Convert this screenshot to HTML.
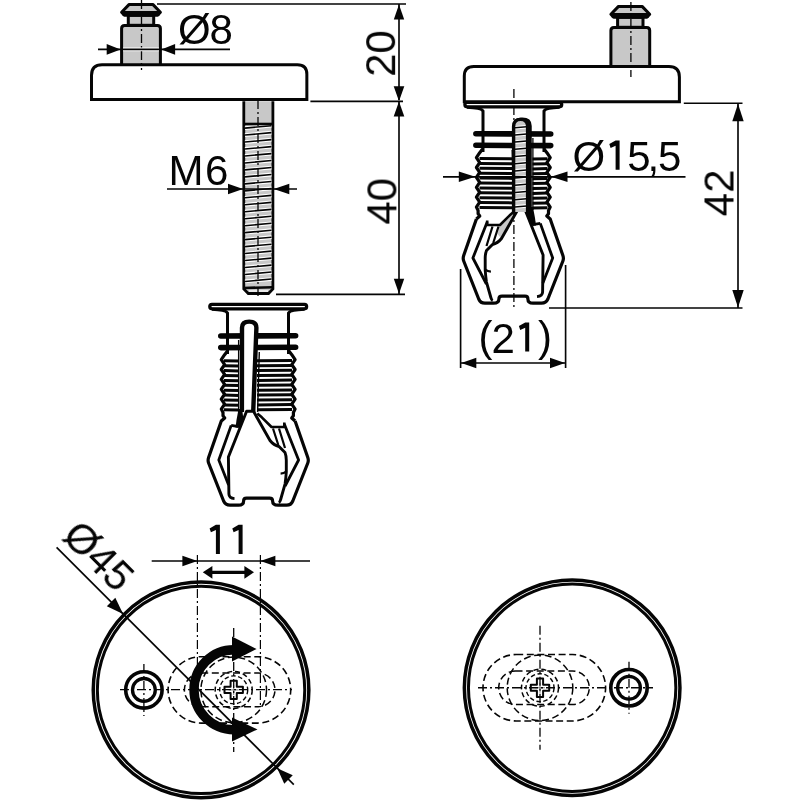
<!DOCTYPE html>
<html><head><meta charset="utf-8"><style>
html,body{margin:0;padding:0;background:#fff;width:800px;height:800px;overflow:hidden}
svg{display:block}
text{font-family:"Liberation Sans",sans-serif}
text{will-change:transform}
</style></head><body>
<svg width="800" height="800" viewBox="0 0 800 800" font-family="Liberation Sans, sans-serif" fill="#050505">
<rect width="800" height="800" fill="#fff"/>
<line x1="157" y1="4" x2="406" y2="4" stroke="#050505" stroke-width="1.65" />
<g transform="translate(141,0)">
<path d="M-19.4,64.8 V28.4 Q-19.4,25.4 -16.4,25.4 H16.4 Q19.4,25.4 19.4,28.4 V64.8" fill="#c8c8c8" stroke="#050505" stroke-width="3"/>
<rect x="-12.7" y="15.3" width="25.4" height="10" fill="#c8c8c8" stroke="#050505" stroke-width="3"/>
<path d="M-11.8,4.4 H11.8 L19.4,12.2 L16.6,15.3 H-16.6 L-19.4,12.2 Z" fill="#c8c8c8" stroke="#050505" stroke-width="3" stroke-linejoin="round"/>
<line x1="-18.6" y1="13.2" x2="18.6" y2="13.2" stroke="#050505" stroke-width="4.4" />
</g>
<path d="M91.5,99.5 V75.3 Q91.5,64.8 102,64.8 H297.35 Q306.85,64.8 306.85,74.3 V99.5 Z" fill="#fff" stroke="#050505" stroke-width="3"/>
<line x1="141.5" y1="0" x2="141.5" y2="70" stroke="#050505" stroke-width="1.3" stroke-dasharray="9 3 2 3"/>
<line x1="123" y1="49.4" x2="159" y2="49.4" stroke="#fff" stroke-width="3.9"  />
<line x1="98" y1="49.4" x2="230" y2="49.4" stroke="#050505" stroke-width="1.65" />
<path d="M120.50,49.40 L106.70,54.70 L106.70,44.10 Z" fill="#050505"/>
<path d="M161.30,49.40 L175.10,44.10 L175.10,54.70 Z" fill="#050505"/>
<text x="178.00" y="44" font-size="42">Ø</text>
<text x="209.50" y="44" font-size="42">8</text>
<line x1="399" y1="4" x2="399" y2="100" stroke="#050505" stroke-width="1.65" />
<path d="M399.00,4.50 L404.20,19.50 L393.80,19.50 Z" fill="#050505"/>
<path d="M399.00,101.20 L393.70,86.20 L404.30,86.20 Z" fill="#050505"/>
<text x="395" y="76.85" font-size="42" text-anchor="start" transform="rotate(-90 395 76.85)" >20</text>
<line x1="310.4" y1="101.4" x2="403" y2="101.4" stroke="#050505" stroke-width="1.65" />
<path d="M243.8,101.3 V289 L248.3,293.5 H268.5 L272.9,289 V101.3" fill="#c8c8c8" stroke="#050505" stroke-width="2.8"/>
<line x1="245" y1="128.1" x2="271.5" y2="125.7" stroke="#fff" stroke-width="3.8" />
<line x1="245" y1="128.1" x2="271.5" y2="125.7" stroke="#050505" stroke-width="1.6" />
<line x1="245" y1="135.07" x2="271.5" y2="132.67" stroke="#fff" stroke-width="3.8" />
<line x1="245" y1="135.07" x2="271.5" y2="132.67" stroke="#050505" stroke-width="1.6" />
<line x1="245" y1="142.04" x2="271.5" y2="139.64" stroke="#fff" stroke-width="3.8" />
<line x1="245" y1="142.04" x2="271.5" y2="139.64" stroke="#050505" stroke-width="1.6" />
<line x1="245" y1="149.01" x2="271.5" y2="146.61" stroke="#fff" stroke-width="3.8" />
<line x1="245" y1="149.01" x2="271.5" y2="146.61" stroke="#050505" stroke-width="1.6" />
<line x1="245" y1="155.98" x2="271.5" y2="153.58" stroke="#fff" stroke-width="3.8" />
<line x1="245" y1="155.98" x2="271.5" y2="153.58" stroke="#050505" stroke-width="1.6" />
<line x1="245" y1="162.95" x2="271.5" y2="160.55" stroke="#fff" stroke-width="3.8" />
<line x1="245" y1="162.95" x2="271.5" y2="160.55" stroke="#050505" stroke-width="1.6" />
<line x1="245" y1="169.92" x2="271.5" y2="167.52" stroke="#fff" stroke-width="3.8" />
<line x1="245" y1="169.92" x2="271.5" y2="167.52" stroke="#050505" stroke-width="1.6" />
<line x1="245" y1="176.89" x2="271.5" y2="174.49" stroke="#fff" stroke-width="3.8" />
<line x1="245" y1="176.89" x2="271.5" y2="174.49" stroke="#050505" stroke-width="1.6" />
<line x1="245" y1="183.86" x2="271.5" y2="181.46" stroke="#fff" stroke-width="3.8" />
<line x1="245" y1="183.86" x2="271.5" y2="181.46" stroke="#050505" stroke-width="1.6" />
<line x1="245" y1="190.83" x2="271.5" y2="188.43" stroke="#fff" stroke-width="3.8" />
<line x1="245" y1="190.83" x2="271.5" y2="188.43" stroke="#050505" stroke-width="1.6" />
<line x1="245" y1="197.8" x2="271.5" y2="195.4" stroke="#fff" stroke-width="3.8" />
<line x1="245" y1="197.8" x2="271.5" y2="195.4" stroke="#050505" stroke-width="1.6" />
<line x1="245" y1="204.77" x2="271.5" y2="202.37" stroke="#fff" stroke-width="3.8" />
<line x1="245" y1="204.77" x2="271.5" y2="202.37" stroke="#050505" stroke-width="1.6" />
<line x1="245" y1="211.74" x2="271.5" y2="209.34" stroke="#fff" stroke-width="3.8" />
<line x1="245" y1="211.74" x2="271.5" y2="209.34" stroke="#050505" stroke-width="1.6" />
<line x1="245" y1="218.71" x2="271.5" y2="216.31" stroke="#fff" stroke-width="3.8" />
<line x1="245" y1="218.71" x2="271.5" y2="216.31" stroke="#050505" stroke-width="1.6" />
<line x1="245" y1="225.68" x2="271.5" y2="223.28" stroke="#fff" stroke-width="3.8" />
<line x1="245" y1="225.68" x2="271.5" y2="223.28" stroke="#050505" stroke-width="1.6" />
<line x1="245" y1="232.65" x2="271.5" y2="230.25" stroke="#fff" stroke-width="3.8" />
<line x1="245" y1="232.65" x2="271.5" y2="230.25" stroke="#050505" stroke-width="1.6" />
<line x1="245" y1="239.62" x2="271.5" y2="237.22" stroke="#fff" stroke-width="3.8" />
<line x1="245" y1="239.62" x2="271.5" y2="237.22" stroke="#050505" stroke-width="1.6" />
<line x1="245" y1="246.59" x2="271.5" y2="244.19" stroke="#fff" stroke-width="3.8" />
<line x1="245" y1="246.59" x2="271.5" y2="244.19" stroke="#050505" stroke-width="1.6" />
<line x1="245" y1="253.56" x2="271.5" y2="251.16" stroke="#fff" stroke-width="3.8" />
<line x1="245" y1="253.56" x2="271.5" y2="251.16" stroke="#050505" stroke-width="1.6" />
<line x1="245" y1="260.53" x2="271.5" y2="258.13" stroke="#fff" stroke-width="3.8" />
<line x1="245" y1="260.53" x2="271.5" y2="258.13" stroke="#050505" stroke-width="1.6" />
<line x1="245" y1="267.5" x2="271.5" y2="265.1" stroke="#fff" stroke-width="3.8" />
<line x1="245" y1="267.5" x2="271.5" y2="265.1" stroke="#050505" stroke-width="1.6" />
<line x1="245" y1="274.47" x2="271.5" y2="272.07" stroke="#fff" stroke-width="3.8" />
<line x1="245" y1="274.47" x2="271.5" y2="272.07" stroke="#050505" stroke-width="1.6" />
<line x1="245" y1="281.44" x2="271.5" y2="279.04" stroke="#fff" stroke-width="3.8" />
<line x1="245" y1="281.44" x2="271.5" y2="279.04" stroke="#050505" stroke-width="1.6" />
<line x1="243.8" y1="124" x2="272.9" y2="124" stroke="#050505" stroke-width="2.6" />
<line x1="243.8" y1="288" x2="272.9" y2="287.2" stroke="#050505" stroke-width="2.6" />
<line x1="249" y1="291" x2="268" y2="291" stroke="#fff" stroke-width="1.2" />
<line x1="258" y1="100" x2="258" y2="296" stroke="#050505" stroke-width="1.3" stroke-dasharray="9 3 2 3"/>
<line x1="167" y1="189" x2="297" y2="189" stroke="#050505" stroke-width="1.65" />
<path d="M243.00,189.00 L228.00,194.30 L228.00,183.70 Z" fill="#050505"/>
<path d="M273.80,189.00 L289.30,183.70 L289.30,194.30 Z" fill="#050505"/>
<text x="168.50" y="185" font-size="42">M</text>
<text x="205.00" y="185" font-size="42">6</text>
<line x1="399" y1="101" x2="399" y2="294.3" stroke="#050505" stroke-width="1.65" />
<path d="M399.00,101.60 L404.30,116.60 L393.70,116.60 Z" fill="#050505"/>
<path d="M399.00,293.70 L393.80,278.70 L404.20,278.70 Z" fill="#050505"/>
<text x="396" y="224.6" font-size="42" text-anchor="start" transform="rotate(-90 396 224.6)" >40</text>
<line x1="276" y1="294.3" x2="405" y2="294.3" stroke="#050505" stroke-width="1.65" />
<path d="M212,304.4 H304.5 Q306.6,304.4 306.6,306.6 Q306.6,308.8 304.5,308.8 H212 Q209.8,308.8 209.8,306.6 Q209.8,304.4 212,304.4 Z" fill="#fff" stroke="#050505" stroke-width="3.3"/>
<path d="M212,309.3 Q226,310 227.5,313 V354" fill="none" stroke="#050505" stroke-width="3"/>
<path d="M304.5,309.3 Q290,310 288.5,313 V354" fill="none" stroke="#050505" stroke-width="3"/>
<line x1="220.8" y1="336" x2="295.6" y2="335.7" stroke="#050505" stroke-width="5.6" stroke-linecap="round"/>
<line x1="220.8" y1="347.6" x2="295.6" y2="347.3" stroke="#050505" stroke-width="5.6" stroke-linecap="round"/>
<line x1="224" y1="360.8" x2="239" y2="361.1" stroke="#050505" stroke-width="3.0" />
<line x1="257" y1="360.8" x2="292" y2="360.5" stroke="#050505" stroke-width="3.0" />
<line x1="224" y1="365.7" x2="239" y2="366.0" stroke="#050505" stroke-width="3.0" />
<line x1="257" y1="365.7" x2="292" y2="365.4" stroke="#050505" stroke-width="3.0" />
<line x1="224" y1="370.6" x2="239" y2="370.9" stroke="#050505" stroke-width="3.0" />
<line x1="257" y1="370.6" x2="292" y2="370.3" stroke="#050505" stroke-width="3.0" />
<line x1="224" y1="375.5" x2="239" y2="375.8" stroke="#050505" stroke-width="3.0" />
<line x1="257" y1="375.5" x2="292" y2="375.2" stroke="#050505" stroke-width="3.0" />
<line x1="224" y1="380.4" x2="239" y2="380.7" stroke="#050505" stroke-width="3.0" />
<line x1="257" y1="380.4" x2="292" y2="380.1" stroke="#050505" stroke-width="3.0" />
<line x1="224" y1="385.3" x2="239" y2="385.6" stroke="#050505" stroke-width="3.0" />
<line x1="257" y1="385.3" x2="292" y2="385.0" stroke="#050505" stroke-width="3.0" />
<line x1="224" y1="390.2" x2="239" y2="390.5" stroke="#050505" stroke-width="3.0" />
<line x1="257" y1="390.2" x2="292" y2="389.9" stroke="#050505" stroke-width="3.0" />
<line x1="224" y1="395.1" x2="239" y2="395.4" stroke="#050505" stroke-width="3.0" />
<line x1="257" y1="395.1" x2="292" y2="394.8" stroke="#050505" stroke-width="3.0" />
<line x1="224" y1="400.0" x2="239" y2="400.3" stroke="#050505" stroke-width="3.0" />
<line x1="257" y1="400.0" x2="292" y2="399.7" stroke="#050505" stroke-width="3.0" />
<line x1="224" y1="404.9" x2="239" y2="405.2" stroke="#050505" stroke-width="3.0" />
<line x1="257" y1="404.9" x2="292" y2="404.6" stroke="#050505" stroke-width="3.0" />
<line x1="224" y1="409.8" x2="239" y2="410.1" stroke="#050505" stroke-width="3.0" />
<line x1="257" y1="409.8" x2="292" y2="409.5" stroke="#050505" stroke-width="3.0" />
<path d="M227.50,351.00 L224.60,354.70 L221.30,359.60 L224.60,364.55 L221.30,369.50 L224.60,374.45 L221.30,379.40 L224.60,384.35 L221.30,389.30 L224.60,394.25 L221.30,399.20 L224.60,404.15 L221.30,409.10 L223.00,412.40 L223.00,415.80 L224.70,418.00 L221.30,421.00 L208.6,457.5 Q207.6,460.3 208.6,463 L223.6,501 Q225.5,505.2 230,505.2 H238.5 Q243.6,505.2 243.6,501 Q243.6,498.2 246.5,498.2 H269.5 Q272.6,498.2 272.6,501 Q272.6,505.2 278,505.2 H286.6 Q291,505.2 292.8,501 L307.8,463 Q308.8,460.3 307.8,457.5 L295.1,421" fill="none" stroke="#050505" stroke-width="3.2" stroke-linejoin="round"/>
<path d="M288.90,351.00 L291.80,354.70 L295.10,359.60 L291.80,364.55 L295.10,369.50 L291.80,374.45 L295.10,379.40 L291.80,384.35 L295.10,389.30 L291.80,394.25 L295.10,399.20 L291.80,404.15 L295.10,409.10 L293.40,412.40 L293.40,415.80 L291.70,418.00 L295.10,421.00" fill="none" stroke="#050505" stroke-width="3.2" stroke-linejoin="round"/>
<path d="M241.9,412 L242,327.8 Q242,321.6 249.2,321.6 Q256.4,321.6 256.4,327.8 L253.2,412" fill="#fff" stroke="#050505" stroke-width="4.4"/>
<line x1="238.6" y1="340" x2="238.6" y2="412" stroke="#050505" stroke-width="1.3" />
<line x1="259.3" y1="352" x2="257.6" y2="412" stroke="#050505" stroke-width="1.4" />
<path d="M231.2,425.4 L218.8,460 L228.6,485" fill="none" stroke="#050505" stroke-width="2.8" stroke-linejoin="round"/>
<line x1="231.2" y1="425.4" x2="238.8" y2="426.6" stroke="#050505" stroke-width="2.6" />
<path d="M235.5,427.5 L240.5,427.5 L243.2,418 L242.2,409 L238.6,409 L236.5,420 Z" fill="#050505"/>
<path d="M234.5,498.6 Q229,498.2 228.9,494 L228.4,457 L246.6,411.3 H253.5 L270,440.5 Q273.8,445.3 279,446.5 L285,452.5 Q286.4,456 286.3,461 L286.3,472 Q285.8,479 285.1,483.8 L280.5,500 Q280,502 278.8,502.6" fill="none" stroke="#050505" stroke-width="2.9" stroke-linejoin="round"/>
<path d="M280.6,473.6 Q284,473.4 286.2,471.6" fill="none" stroke="#050505" stroke-width="2.4"/>
<path d="M284.3,424 L298.6,460 L285.1,486" fill="none" stroke="#050505" stroke-width="2.8" stroke-linejoin="round"/>
<path d="M257.3,413.5 L261.8,417.3 L271.5,427 H284.3 V422.5" fill="none" stroke="#050505" stroke-width="2.6" stroke-linejoin="round"/>
<path d="M273,428.5 L278.3,445 M279,428.5 L285,448" fill="none" stroke="#050505" stroke-width="2.2"/>
<g transform="translate(630.3,2)">
<path d="M-19.4,64.6 V28.4 Q-19.4,25.4 -16.4,25.4 H16.4 Q19.4,25.4 19.4,28.4 V64.6" fill="#c8c8c8" stroke="#050505" stroke-width="3"/>
<rect x="-12.7" y="15.3" width="25.4" height="10" fill="#c8c8c8" stroke="#050505" stroke-width="3"/>
<path d="M-11.8,4.4 H11.8 L19.4,12.2 L16.6,15.3 H-16.6 L-19.4,12.2 Z" fill="#c8c8c8" stroke="#050505" stroke-width="3" stroke-linejoin="round"/>
<line x1="-18.6" y1="13.2" x2="18.6" y2="13.2" stroke="#050505" stroke-width="4.4" />
</g>
<path d="M515,210.5 L499.5,225.5 L497.5,234 L501.5,238.5 L518.5,209 Z" fill="#c8c8c8"/>
<g transform="translate(0,-202) translate(771.5,0) scale(-1,1)"><path d="M212,304.4 H304.5 Q306.6,304.4 306.6,306.6 Q306.6,308.8 304.5,308.8 H212 Q209.8,308.8 209.8,306.6 Q209.8,304.4 212,304.4 Z" fill="#fff" stroke="#050505" stroke-width="3.3"/>
<path d="M212,309.3 Q226,310 227.5,313 V354" fill="none" stroke="#050505" stroke-width="3"/>
<path d="M304.5,309.3 Q290,310 288.5,313 V354" fill="none" stroke="#050505" stroke-width="3"/>
<line x1="220.8" y1="336" x2="295.6" y2="335.7" stroke="#050505" stroke-width="5.6" stroke-linecap="round"/>
<line x1="220.8" y1="347.6" x2="295.6" y2="347.3" stroke="#050505" stroke-width="5.6" stroke-linecap="round"/>
<line x1="224" y1="360.8" x2="239" y2="361.1" stroke="#050505" stroke-width="3.0" />
<line x1="257" y1="360.8" x2="292" y2="360.5" stroke="#050505" stroke-width="3.0" />
<line x1="224" y1="365.7" x2="239" y2="366.0" stroke="#050505" stroke-width="3.0" />
<line x1="257" y1="365.7" x2="292" y2="365.4" stroke="#050505" stroke-width="3.0" />
<line x1="224" y1="370.6" x2="239" y2="370.9" stroke="#050505" stroke-width="3.0" />
<line x1="257" y1="370.6" x2="292" y2="370.3" stroke="#050505" stroke-width="3.0" />
<line x1="224" y1="375.5" x2="239" y2="375.8" stroke="#050505" stroke-width="3.0" />
<line x1="257" y1="375.5" x2="292" y2="375.2" stroke="#050505" stroke-width="3.0" />
<line x1="224" y1="380.4" x2="239" y2="380.7" stroke="#050505" stroke-width="3.0" />
<line x1="257" y1="380.4" x2="292" y2="380.1" stroke="#050505" stroke-width="3.0" />
<line x1="224" y1="385.3" x2="239" y2="385.6" stroke="#050505" stroke-width="3.0" />
<line x1="257" y1="385.3" x2="292" y2="385.0" stroke="#050505" stroke-width="3.0" />
<line x1="224" y1="390.2" x2="239" y2="390.5" stroke="#050505" stroke-width="3.0" />
<line x1="257" y1="390.2" x2="292" y2="389.9" stroke="#050505" stroke-width="3.0" />
<line x1="224" y1="395.1" x2="239" y2="395.4" stroke="#050505" stroke-width="3.0" />
<line x1="257" y1="395.1" x2="292" y2="394.8" stroke="#050505" stroke-width="3.0" />
<line x1="224" y1="400.0" x2="239" y2="400.3" stroke="#050505" stroke-width="3.0" />
<line x1="257" y1="400.0" x2="292" y2="399.7" stroke="#050505" stroke-width="3.0" />
<line x1="224" y1="404.9" x2="239" y2="405.2" stroke="#050505" stroke-width="3.0" />
<line x1="257" y1="404.9" x2="292" y2="404.6" stroke="#050505" stroke-width="3.0" />
<line x1="224" y1="409.8" x2="239" y2="410.1" stroke="#050505" stroke-width="3.0" />
<line x1="257" y1="409.8" x2="292" y2="409.5" stroke="#050505" stroke-width="3.0" />
<path d="M227.50,351.00 L224.60,354.70 L221.30,359.60 L224.60,364.55 L221.30,369.50 L224.60,374.45 L221.30,379.40 L224.60,384.35 L221.30,389.30 L224.60,394.25 L221.30,399.20 L224.60,404.15 L221.30,409.10 L223.00,412.40 L223.00,415.80 L224.70,418.00 L221.30,421.00 L208.6,457.5 Q207.6,460.3 208.6,463 L223.6,501 Q225.5,505.2 230,505.2 H238.5 Q243.6,505.2 243.6,501 Q243.6,498.2 246.5,498.2 H269.5 Q272.6,498.2 272.6,501 Q272.6,505.2 278,505.2 H286.6 Q291,505.2 292.8,501 L307.8,463 Q308.8,460.3 307.8,457.5 L295.1,421" fill="none" stroke="#050505" stroke-width="3.2" stroke-linejoin="round"/>
<path d="M288.90,351.00 L291.80,354.70 L295.10,359.60 L291.80,364.55 L295.10,369.50 L291.80,374.45 L295.10,379.40 L291.80,384.35 L295.10,389.30 L291.80,394.25 L295.10,399.20 L291.80,404.15 L295.10,409.10 L293.40,412.40 L293.40,415.80 L291.70,418.00 L295.10,421.00" fill="none" stroke="#050505" stroke-width="3.2" stroke-linejoin="round"/>
<path d="M241.9,412 L242,327.8 Q242,321.6 249.2,321.6 Q256.4,321.6 256.4,327.8 L253.2,412" fill="#fff" stroke="#050505" stroke-width="4.4"/>
<line x1="238.6" y1="340" x2="238.6" y2="412" stroke="#050505" stroke-width="1.3" />
<line x1="259.3" y1="352" x2="257.6" y2="412" stroke="#050505" stroke-width="1.4" />
<path d="M231.2,425.4 L218.8,460 L228.6,485" fill="none" stroke="#050505" stroke-width="2.8" stroke-linejoin="round"/>
<line x1="231.2" y1="425.4" x2="238.8" y2="426.6" stroke="#050505" stroke-width="2.6" />
<path d="M235.5,427.5 L240.5,427.5 L243.2,418 L242.2,409 L238.6,409 L236.5,420 Z" fill="#050505"/>
<path d="M234.5,498.6 Q229,498.2 228.9,494 L228.4,457 L246.6,411.3 H253.5 L270,440.5 Q273.8,445.3 279,446.5 L285,452.5 Q286.4,456 286.3,461 L286.3,472 Q285.8,479 285.1,483.8 L280.5,500 Q280,502 278.8,502.6" fill="none" stroke="#050505" stroke-width="2.9" stroke-linejoin="round"/>
<path d="M280.6,473.6 Q284,473.4 286.2,471.6" fill="none" stroke="#050505" stroke-width="2.4"/>
<path d="M284.3,424 L298.6,460 L285.1,486" fill="none" stroke="#050505" stroke-width="2.8" stroke-linejoin="round"/>
<path d="M257.3,413.5 L261.8,417.3 L271.5,427 H284.3 V422.5" fill="none" stroke="#050505" stroke-width="2.6" stroke-linejoin="round"/>
<path d="M273,428.5 L278.3,445 M279,428.5 L285,448" fill="none" stroke="#050505" stroke-width="2.2"/></g>
<path d="M679.4,101.7 V77.1 Q679.4,66.6 668.9,66.6 H473.8 Q464.3,66.6 464.3,76.1 V101.7 Z" fill="#fff" stroke="#050505" stroke-width="3"/>
<line x1="630.9" y1="2" x2="630.9" y2="77" stroke="#050505" stroke-width="1.3" stroke-dasharray="9 3 2 3"/>
<line x1="513.9" y1="89" x2="513.9" y2="310" stroke="#050505" stroke-width="1.3" stroke-dasharray="9 3 2 3"/>
<path d="M513.6,212 V126.6 Q513.6,119.4 520.6,119.4 Q527.6,119.4 527.6,126.6 V212 Z" fill="#c8c8c8" stroke="none"/>
<line x1="515" y1="127.7" x2="526.5" y2="126.7" stroke="#fff" stroke-width="3.6" />
<line x1="515" y1="127.7" x2="526.5" y2="126.7" stroke="#050505" stroke-width="1.5" />
<line x1="515" y1="134.9" x2="526.5" y2="133.9" stroke="#fff" stroke-width="3.6" />
<line x1="515" y1="134.9" x2="526.5" y2="133.9" stroke="#050505" stroke-width="1.5" />
<line x1="515" y1="142.1" x2="526.5" y2="141.1" stroke="#fff" stroke-width="3.6" />
<line x1="515" y1="142.1" x2="526.5" y2="141.1" stroke="#050505" stroke-width="1.5" />
<line x1="515" y1="149.3" x2="526.5" y2="148.3" stroke="#fff" stroke-width="3.6" />
<line x1="515" y1="149.3" x2="526.5" y2="148.3" stroke="#050505" stroke-width="1.5" />
<line x1="515" y1="156.5" x2="526.5" y2="155.5" stroke="#fff" stroke-width="3.6" />
<line x1="515" y1="156.5" x2="526.5" y2="155.5" stroke="#050505" stroke-width="1.5" />
<line x1="515" y1="163.7" x2="526.5" y2="162.7" stroke="#fff" stroke-width="3.6" />
<line x1="515" y1="163.7" x2="526.5" y2="162.7" stroke="#050505" stroke-width="1.5" />
<line x1="515" y1="170.9" x2="526.5" y2="169.9" stroke="#fff" stroke-width="3.6" />
<line x1="515" y1="170.9" x2="526.5" y2="169.9" stroke="#050505" stroke-width="1.5" />
<line x1="515" y1="178.1" x2="526.5" y2="177.1" stroke="#fff" stroke-width="3.6" />
<line x1="515" y1="178.1" x2="526.5" y2="177.1" stroke="#050505" stroke-width="1.5" />
<line x1="515" y1="185.3" x2="526.5" y2="184.3" stroke="#fff" stroke-width="3.6" />
<line x1="515" y1="185.3" x2="526.5" y2="184.3" stroke="#050505" stroke-width="1.5" />
<line x1="515" y1="192.5" x2="526.5" y2="191.5" stroke="#fff" stroke-width="3.6" />
<line x1="515" y1="192.5" x2="526.5" y2="191.5" stroke="#050505" stroke-width="1.5" />
<line x1="515" y1="199.7" x2="526.5" y2="198.7" stroke="#fff" stroke-width="3.6" />
<line x1="515" y1="199.7" x2="526.5" y2="198.7" stroke="#050505" stroke-width="1.5" />
<line x1="515" y1="206.9" x2="526.5" y2="205.9" stroke="#fff" stroke-width="3.6" />
<line x1="515" y1="206.9" x2="526.5" y2="205.9" stroke="#050505" stroke-width="1.5" />
<path d="M513.6,212 V126.6 Q513.6,119.4 520.6,119.4 Q527.6,119.4 527.6,126.6 V212" fill="none" stroke="#050505" stroke-width="3.4"/>
<path d="M529,126 V212 Q530,217 533.5,223" fill="none" stroke="#050505" stroke-width="4.2"/>
<line x1="443" y1="176.8" x2="685.5" y2="176.8" stroke="#050505" stroke-width="1.65" />
<path d="M475.30,176.80 L458.80,182.10 L458.80,171.50 Z" fill="#050505"/>
<path d="M551.00,176.80 L567.50,171.50 L567.50,182.10 Z" fill="#050505"/>
<text x="572.50" y="170.8" font-size="42">Ø</text>
<path d="M615.60,140.50 H619.60 V169.80 H615.60 V145.70 L610.60,147.90 L609.30,144.10 Z" fill="#050505"/>
<text x="627.25" y="170.8" font-size="42">5</text>
<text x="647.50" y="170.8" font-size="42">,</text>
<text x="658.00" y="170.8" font-size="42">5</text>
<line x1="683.8" y1="103.2" x2="742.5" y2="103.2" stroke="#050505" stroke-width="1.65" />
<line x1="549" y1="308" x2="742.5" y2="308" stroke="#050505" stroke-width="1.65" />
<line x1="738" y1="103.5" x2="738" y2="308" stroke="#050505" stroke-width="1.65" />
<path d="M738.00,103.80 L743.70,121.30 L732.30,121.30 Z" fill="#050505"/>
<path d="M738.00,307.60 L732.30,290.10 L743.70,290.10 Z" fill="#050505"/>
<text x="733.8" y="216.3" font-size="42" text-anchor="start" transform="rotate(-90 733.8 216.3)" >42</text>
<line x1="460.6" y1="269" x2="460.6" y2="368" stroke="#050505" stroke-width="1.65" />
<line x1="565.6" y1="265" x2="565.6" y2="368" stroke="#050505" stroke-width="1.65" />
<line x1="461" y1="363" x2="565" y2="363" stroke="#050505" stroke-width="1.65" />
<path d="M461.30,363.00 L476.30,357.80 L476.30,368.20 Z" fill="#050505"/>
<path d="M565.00,363.00 L550.00,368.20 L550.00,357.80 Z" fill="#050505"/>
<text x="478.50" y="351" font-size="42">(</text>
<text x="491.50" y="352.5" font-size="42">2</text>
<path d="M525.20,322.50 H529.20 V351.50 H525.20 V327.70 L520.20,329.90 L518.90,326.10 Z" fill="#050505"/>
<text x="538.00" y="351" font-size="42">)</text>
<circle cx="201.05" cy="689.9" r="107.8" fill="none" stroke="#050505" stroke-width="3.5"/>
<circle cx="201.05" cy="689.9" r="103.7" fill="none" stroke="#050505" stroke-width="3.0"/>
<circle cx="143.9" cy="689.9" r="18.2" fill="none" stroke="#050505" stroke-width="3.6"/>
<circle cx="143.9" cy="689.9" r="11.4" fill="none" stroke="#050505" stroke-width="3.3"/>
<line x1="143.9" y1="663.9" x2="143.9" y2="715.9" stroke="#050505" stroke-width="1.3" stroke-dasharray="9 3 2 3"/>
<rect x="168.1" y="656.6999999999999" width="122.6" height="66.4" rx="33.2" fill="none" stroke="#050505" stroke-width="1.6" stroke-dasharray="7 3.6"/>
<rect x="184.39999999999998" y="673.1" width="90.6" height="33.6" rx="16.8" fill="none" stroke="#050505" stroke-width="1.5" stroke-dasharray="7 3.6"/>
<circle cx="233.7" cy="689.9" r="32.8" fill="none" stroke="#050505" stroke-width="1.5" stroke-dasharray="7 3.6"/>
<circle cx="233.7" cy="689.9" r="18.5" fill="none" stroke="#050505" stroke-width="1.5" stroke-dasharray="5 3"/>
<circle cx="233.7" cy="689.9" r="14" fill="none" stroke="#050505" stroke-width="1.4" stroke-dasharray="4.5 2.5"/>
<path d="M230.6,680.6999999999999 h6.2 v6.1 h6.1 v6.2 h-6.1 v6.1 h-6.2 v-6.1 h-6.1 v-6.2 h6.1 Z" fill="#fff" stroke="#050505" stroke-width="2.0" stroke-linejoin="round"/>
<line x1="228.7" y1="689.9" x2="238.7" y2="689.9" stroke="#777" stroke-width="1.0" />
<line x1="233.7" y1="684.9" x2="233.7" y2="694.9" stroke="#777" stroke-width="1.0" />
<line x1="233.7" y1="627.9" x2="233.7" y2="751.9" stroke="#050505" stroke-width="1.3" stroke-dasharray="9 3 2 3"/>

<line x1="120" y1="689.7" x2="292" y2="689.7" stroke="#050505" stroke-width="1.2" stroke-dasharray="9 3 2 3"/>
<line x1="197.4" y1="555" x2="197.4" y2="706" stroke="#050505" stroke-width="1.2" stroke-dasharray="9 3 2 3"/>
<line x1="260.4" y1="555" x2="260.4" y2="706" stroke="#050505" stroke-width="1.2" stroke-dasharray="9 3 2 3"/>
<line x1="151.7" y1="561" x2="310" y2="561" stroke="#050505" stroke-width="1.65" />
<path d="M197.40,561.00 L182.40,566.20 L182.40,555.80 Z" fill="#050505"/>
<path d="M260.40,561.00 L275.40,555.80 L275.40,566.20 Z" fill="#050505"/>
<path d="M215.90,524.80 H219.90 V554.00 H215.90 V530.00 L210.90,532.20 L209.60,528.40 Z" fill="#050505"/>
<path d="M238.60,524.80 H242.60 V554.00 H238.60 V530.00 L233.60,532.20 L232.30,528.40 Z" fill="#050505"/>
<line x1="210" y1="572.3" x2="247" y2="572.3" stroke="#050505" stroke-width="3.3"/>
<path d="M202.80,572.30 L212.40,565.90 L212.40,578.70 Z" fill="#050505"/>
<path d="M254.00,572.30 L244.40,578.70 L244.40,565.90 Z" fill="#050505"/>
<path d="M234,649.7 A40,40 0 0 0 234,729.7" fill="none" stroke="#050505" stroke-width="9.4"/>
<path d="M256.6,649 L232,636.5 L232,661.5 Z" fill="#050505"/>
<path d="M257.5,729.4 L232,717.5 L232,741.5 Z" fill="#050505"/>
<line x1="56.6" y1="547.3" x2="293.8" y2="784.6" stroke="#050505" stroke-width="1.65" />
<path d="M123.10,614.10 L106.84,606.32 L115.32,597.84 Z" fill="#050505"/>
<path d="M277.20,768.30 L292.76,775.37 L284.27,783.86 Z" fill="#050505"/>
<text x="60.3" y="538.2" font-size="42" text-anchor="start" transform="rotate(45 60.3 538.2)" >Ø45</text>
<circle cx="572.15" cy="687.75" r="107.8" fill="none" stroke="#050505" stroke-width="3.5"/>
<circle cx="572.15" cy="687.75" r="103.7" fill="none" stroke="#050505" stroke-width="3.0"/>
<circle cx="629" cy="687.75" r="18.2" fill="none" stroke="#050505" stroke-width="3.6"/>
<circle cx="629" cy="687.75" r="11.4" fill="none" stroke="#050505" stroke-width="3.3"/>
<line x1="629" y1="661.75" x2="629" y2="713.75" stroke="#050505" stroke-width="1.3" stroke-dasharray="9 3 2 3"/>
<rect x="483" y="654.55" width="122.6" height="66.4" rx="33.2" fill="none" stroke="#050505" stroke-width="1.6" stroke-dasharray="7 3.6"/>
<rect x="498.7" y="670.95" width="90.6" height="33.6" rx="16.8" fill="none" stroke="#050505" stroke-width="1.5" stroke-dasharray="7 3.6"/>
<circle cx="540" cy="687.75" r="32.8" fill="none" stroke="#050505" stroke-width="1.5" stroke-dasharray="7 3.6"/>
<circle cx="540" cy="687.75" r="18.5" fill="none" stroke="#050505" stroke-width="1.5" stroke-dasharray="5 3"/>
<circle cx="540" cy="687.75" r="14" fill="none" stroke="#050505" stroke-width="1.4" stroke-dasharray="4.5 2.5"/>
<path d="M536.9,678.55 h6.2 v6.1 h6.1 v6.2 h-6.1 v6.1 h-6.2 v-6.1 h-6.1 v-6.2 h6.1 Z" fill="#fff" stroke="#050505" stroke-width="2.0" stroke-linejoin="round"/>
<line x1="535" y1="687.75" x2="545" y2="687.75" stroke="#777" stroke-width="1.0" />
<line x1="540" y1="682.75" x2="540" y2="692.75" stroke="#777" stroke-width="1.0" />
<line x1="540" y1="625.75" x2="540" y2="749.75" stroke="#050505" stroke-width="1.3" stroke-dasharray="9 3 2 3"/>
<line x1="478" y1="687.75" x2="653" y2="687.75" stroke="#050505" stroke-width="1.3" stroke-dasharray="9 3 2 3"/>
</svg>
</body></html>
